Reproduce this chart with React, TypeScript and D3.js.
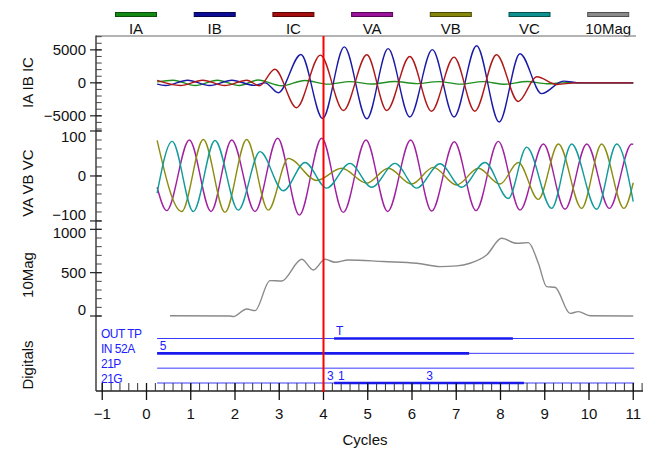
import React from 'react';
import * as d3 from 'd3';

// ---------- data ----------
const legendNames = ['IA', 'IB', 'IC', 'VA', 'VB', 'VC', '10Mag'];
const lineColors = ['#1f8f1f', '#1a1aa6', '#b01818', '#a020a0', '#8c8c10', '#109a9a', '#8a8a8a'];
const legendFill = ['#138813', '#0c0c96', '#a60e0e', '#9a139a', '#86860a', '#0d9090', '#8a8a8a'];
const legendStroke = ['#0a4f0a', '#06064f', '#5a0606', '#560656', '#4a4a04', '#064f4f', '#505050'];

type P = [number, number];

const iaPeaks: P[] = [[0.24, 150], [0.6, 400], [1.1, -400], [1.6, 400], [2.1, -400], [2.52, 420], [3.05, -450], [3.58, 350], [4.1, -200], [4.6, 180], [5.1, -180], [5.6, 200], [6.1, -120], [6.6, 180], [7.1, -200], [7.6, 180], [8.1, -220], [8.6, 200], [9.05, -150], [9.5, 30], [9.9, 0], [11.0, 0]];
const ibPeaks: P[] = [[0.24, -200], [0.43, -400], [0.93, 400], [1.43, -400], [1.93, 400], [2.43, -380], [2.68, 0], [2.98, -1500], [3.49, 4300], [3.98, -5400], [4.47, 5450], [4.98, -5450], [5.46, 5180], [5.95, -5170], [6.46, 5030], [6.95, -5170], [7.46, 5630], [7.97, -5935], [8.44, 4420], [8.93, -1630], [9.42, 260], [9.8, 0], [11.0, 0]];
const icPeaks: P[] = [[0.24, 380], [0.77, -400], [1.27, 400], [1.77, -400], [2.27, 400], [2.55, -450], [2.9, 2050], [3.39, -3770], [3.93, 4200], [4.45, -4200], [4.98, 4260], [5.43, -4200], [5.95, 4000], [6.44, -4300], [6.95, 3900], [7.42, -4300], [7.91, 4260], [8.4, -2820], [8.82, 920], [9.27, -250], [9.7, 0], [11.0, 0]];

const vaPeaks: P[] = [[0.24, -25], [0.456, -77], [0.968, 80], [1.458, -79], [1.925, 80], [2.452, -79], [2.964, 84], [3.454, -87], [3.959, 84], [4.448, -81], [4.96, 80], [5.45, -79], [5.97, 80], [6.445, -78], [6.956, 76], [7.446, -77], [7.95, 77], [8.44, -76], [8.97, 71], [9.457, -74], [9.95, 71], [10.46, -72], [10.965, 71], [11.0, 70]];
const vbPeaks: P[] = [[0.24, 79], [0.795, -79], [1.284, 81], [1.774, -81], [2.264, 81], [2.753, -76], [3.205, 39], [3.846, -10], [4.411, 17], [4.976, -16], [5.465, 17], [5.992, -18], [6.482, 19], [7.01, -20], [7.499, 17], [7.989, -18], [8.403, 30], [8.855, -52], [9.31, 71], [9.834, -72], [10.286, 71], [10.79, -72], [11.0, -15]];
const vcPeaks: P[] = [[0.24, -38], [0.58, 77], [1.058, -79], [1.548, 79], [2.075, -76], [2.565, 54], [3.092, -33], [3.582, 30], [4.072, -27], [4.599, 28], [5.089, -25], [5.616, 28], [6.106, -27], [6.633, 27], [7.122, -25], [7.65, 30], [8.177, -50], [8.591, 64], [9.156, -72], [9.608, 71], [10.173, -74], [10.625, 71], [11.0, -57]];

const magPoints: P[] = [[0.53, 3], [1.887, 0], [1.96, -6], [2.264, 81], [2.452, 62], [2.791, 408], [3.055, 404], [3.507, 655], [3.77, 531], [4.034, 655], [4.26, 620], [4.561, 647], [5.352, 628], [6.106, 609], [6.633, 570], [7.01, 578], [7.311, 609], [7.687, 704], [8.026, 897], [8.365, 839], [8.629, 847], [8.855, 609], [9.043, 339], [9.232, 331], [9.571, 30], [9.759, 50], [10.02, 3], [11.0, 0]];

const xTickValues = [-1, 0, 1, 2, 3, 4, 5, 6, 7, 8, 9, 10, 11];
const curTicks = [-5000, 0, 5000];
const voltTicks = [-100, 0, 100];
const magTicks = [0, 500, 1000];

const digitalNames = ['OUT TP', 'IN 52A', '21P', '21G'];
const digitalSpan: [number, number] = [0.24, 11.02];
const digitalOn: [number, number][][] = [[[4.24, 8.28]], [[0.24, 7.29]], [], [[4.24, 8.53]]];
const digitalMarks: { c: number; t: string }[][] = [[{ c: 4.28, t: 'T' }], [{ c: 0.3, t: '5' }], [], [{ c: 4.08, t: '3' }, { c: 4.33, t: '1' }, { c: 6.32, t: '3' }]];

const cursorCycle = 4;

// ---------- layout ----------
const W = 646, H = 449;
const axisX = 96;
const plotRight = 636;
const font = '"Liberation Sans", Arial, sans-serif';
const minus = (v: number) => (v < 0 ? '\u2212' + Math.abs(v) : String(v));

const x = d3.scaleLinear().domain([-1, 11]).range([102.25, 633.25]);

const panels = [
  { key: 'cur', title: 'IA IB IC', titleY: 82.5, padTop: 7.5, padBot: 7, y: d3.scaleLinear().domain([-7000, 7100]).range([129, 36]), ticks: curTicks, minor: d3.range(-7000, 7001, 1000) },
  { key: 'volt', title: 'VA VB VC', titleY: 183, padTop: 7.5, padBot: 10.5, y: d3.scaleLinear().domain([-109, 104.4]).range([225, 129]), ticks: voltTicks, minor: d3.range(-100, 101, 20) },
  { key: 'mag', title: '10Mag', titleY: 275, padTop: 7.8, padBot: 6.5, y: d3.scaleLinear().domain([0, 1050]).range([316, 225]), ticks: magTicks, minor: d3.range(0, 1001, 100) },
];

const digY = d3.scalePoint<string>().domain(digitalNames).range([338.5, 383]);
const xAxisY = 391;

function mkLine(y: d3.ScaleLinear<number, number>) {
  return d3.line<P>().x(d => x(d[0])).y(d => y(d[1])).curve(d3.curveMonotoneX);
}

export default function App() {
  const [p1, p2, p3] = panels;
  const curSeries = [iaPeaks, ibPeaks, icPeaks];
  const voltSeries = [vaPeaks, vbPeaks, vcPeaks];
  const l1 = mkLine(p1.y), l2 = mkLine(p2.y), l3 = mkLine(p3.y);
  const minorX = d3.range(-1.2, 11.21, 0.2).map(v => Math.round(v * 10) / 10).filter(v => x(v) >= axisX && x(v) <= 644);

  return (
    <svg width={W} height={H} style={{ position: 'absolute', left: 0, top: 0, background: '#fff' }} fontFamily={font}>
      {/* legend */}
      {legendNames.map((n, i) => {
        const cx = 136 + i * 78.7;
        return (
          <g key={n}>
            <rect x={cx - 20.5} y={12.5} width={41} height={4} fill={legendFill[i]} stroke={legendStroke[i]} strokeWidth={1} />
            <text x={cx} y={33.5} fontSize={15} textAnchor="middle" fill="#111">{n}</text>
          </g>
        );
      })}

      {/* top frame line */}
      <line x1={axisX} x2={plotRight} y1={36} y2={36} stroke="#9a9a9a" strokeWidth={1.6} />

      {/* waveforms */}
      {curSeries.map((s, i) => (
        <path key={'c' + i} d={l1(s) || ''} fill="none" stroke={lineColors[i]} strokeWidth={1.4} />
      ))}
      {voltSeries.map((s, i) => (
        <path key={'v' + i} d={l2(s) || ''} fill="none" stroke={lineColors[3 + i]} strokeWidth={1.4} />
      ))}
      <path d={l3(magPoints) || ''} fill="none" stroke={lineColors[6]} strokeWidth={1.4} />

      {/* digitals */}
      {digitalNames.map((n, i) => {
        const yy = digY(n) as number;
        return (
          <g key={n} fill="#2020ff">
            <text x={101} y={yy - 0.2} fontSize={12} letterSpacing={-0.5}>{n}</text>
            <line x1={x(digitalSpan[0])} x2={x(digitalSpan[1])} y1={yy} y2={yy} stroke="#3a3aff" strokeWidth={1} />
            {digitalOn[i].map((seg, j) => (
              <line key={j} x1={x(seg[0])} x2={x(seg[1])} y1={yy} y2={yy} stroke="#1a1aee" strokeWidth={2.6} />
            ))}
            {digitalMarks[i].map((m, j) => (
              <text key={'m' + j} x={x(m.c)} y={yy - 3.2} fontSize={12}>{m.t}</text>
            ))}
          </g>
        );
      })}

      {/* y axis */}
      <line x1={axisX} x2={axisX} y1={35.5} y2={xAxisY} stroke="#222" strokeWidth={1.3} />
      {panels.map(p => {
        const [r0, r1] = p.y.range();
        const top = Math.min(r0, r1), bot = Math.max(r0, r1);
        return (
          <g key={p.key}>
            {p.minor.filter(v => p.y(v) >= top - 0.5 && p.y(v) <= bot + 0.5).map(v => (
              <line key={'m' + v} x1={axisX} x2={axisX + 5.7} y1={p.y(v)} y2={p.y(v)} stroke="#444" strokeWidth={1} />
            ))}
            {p.ticks.map(v => {
              const ty = p.y(v);
              const cy = Math.max(top + p.padTop, Math.min(bot - p.padBot, ty));
              return (
                <g key={'t' + v}>
                  <line x1={axisX - 6} x2={axisX + 5.7} y1={ty} y2={ty} stroke="#222" strokeWidth={1.2} />
                  <text x={86} y={cy + 5.4} fontSize={15} textAnchor="end" fill="#111">{minus(v)}</text>
                </g>
              );
            })}
            <text transform={`translate(33,${p.titleY}) rotate(-90)`} fontSize={15} textAnchor="middle" fill="#111">{p.title}</text>
          </g>
        );
      })}
      <text transform={`translate(33,365) rotate(-90)`} fontSize={15} textAnchor="middle" fill="#111">Digitals</text>

      {/* x axis */}
      <line x1={axisX} x2={643} y1={xAxisY} y2={xAxisY} stroke="#222" strokeWidth={1.3} />
      {minorX.map(v => (
        <line key={'xm' + v} x1={x(v)} x2={x(v)} y1={383} y2={xAxisY} stroke="#333" strokeWidth={1} />
      ))}
      {xTickValues.map(v => (
        <g key={'xt' + v}>
          <line x1={x(v)} x2={x(v)} y1={383} y2={400} stroke="#111" strokeWidth={1.3} />
          <text x={x(v)} y={418.5} fontSize={15} textAnchor="middle" fill="#111">{minus(v)}</text>
        </g>
      ))}
      <text x={365} y={445} fontSize={15} textAnchor="middle" fill="#111">Cycles</text>

      {/* cursor */}
      <line x1={x(cursorCycle)} x2={x(cursorCycle)} y1={36} y2={392} stroke="#ff0000" strokeWidth={2} />
    </svg>
  );
}
